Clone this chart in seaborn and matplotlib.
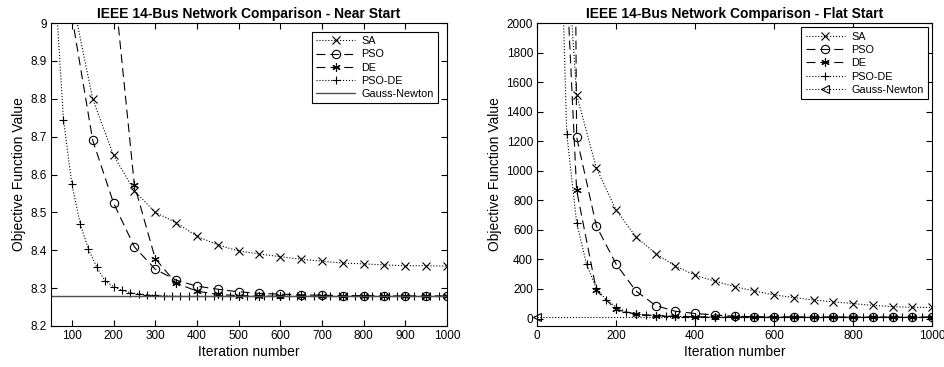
import matplotlib
matplotlib.use("Agg")
import matplotlib.pyplot as plt
import seaborn as sns
from matplotlib.ticker import FormatStrFormatter, MultipleLocator

# ---- near start (left) ----
iters_near = [100, 150, 200, 250, 300, 350, 400, 450, 500, 550, 600, 650, 700, 750, 800, 850, 900, 950, 1000]
sa_near = [9.07, 8.80, 8.651, 8.557, 8.500, 8.473, 8.437, 8.414, 8.398, 8.390, 8.383, 8.376, 8.371,
           8.366, 8.364, 8.361, 8.359, 8.359, 8.358]
pso_near = [9.02, 8.691, 8.525, 8.409, 8.350, 8.321, 8.305, 8.297, 8.290, 8.286, 8.284, 8.282, 8.281,
            8.280, 8.280, 8.279, 8.279, 8.279, 8.279]
iters_de_near = [200, 250, 300, 350, 400, 450, 500, 550, 600, 650, 700, 750, 800, 850, 900, 950, 1000]
de_near = [9.12, 8.573, 8.378, 8.313, 8.292, 8.283, 8.280, 8.279, 8.278, 8.278, 8.278, 8.278, 8.278,
           8.278, 8.278, 8.278, 8.278]
iters_psode_near = [60, 80, 100, 120, 140, 160, 180, 200, 220, 240, 260, 280, 300, 320, 340, 360, 380,
                    400, 420, 440, 460, 480, 500, 520, 540, 560, 580, 600, 620, 640, 660, 680, 700,
                    720, 740, 760, 780, 800, 820, 840, 860, 880, 900, 920, 940, 960, 980, 1000]
psode_near = [9.10, 8.745, 8.575, 8.470, 8.402, 8.355, 8.318, 8.304, 8.294, 8.288, 8.285, 8.282, 8.281,
              8.280, 8.279, 8.278, 8.278, 8.278, 8.278, 8.278, 8.278, 8.278, 8.278, 8.278, 8.278,
              8.278, 8.278, 8.278, 8.278, 8.278, 8.278, 8.278, 8.278, 8.278, 8.278, 8.278, 8.278,
              8.278, 8.278, 8.278, 8.278, 8.278, 8.278, 8.278, 8.278, 8.278, 8.278, 8.278]
iters_gn = [0, 1000]
gn_value = [8.278, 8.278]

# ---- flat start (right) ----
iters_flat = [50, 100, 150, 200, 250, 300, 350, 400, 450, 500, 550, 600, 650, 700, 750, 800, 850, 900, 950, 1000]
sa_flat = [3550, 1515, 1018, 734, 553, 440, 355, 293, 253, 216, 186, 160, 142, 125, 113, 101, 89, 80, 76, 75]
pso_flat = [20000, 1228, 626, 368, 187, 88, 49, 34, 24, 15, 12, 11, 10, 10, 9.5, 9.3, 9.1, 9, 9, 9]
de_flat = [3700, 868, 190, 62, 28, 20, 15, 12, 10, 9.5, 9, 8.8, 8.6, 8.5, 8.4, 8.4, 8.3, 8.3, 8.3, 8.3]
iters_psode_flat = [50, 75, 100, 125, 150, 175, 200, 225, 250, 275, 300, 325, 350, 375, 400, 425, 450,
                    475, 500, 525, 550, 575, 600, 625, 650, 675, 700, 725, 750, 775, 800, 825, 850,
                    875, 900, 925, 950, 975, 1000]
psode_flat = [3600, 1250, 650, 368, 205, 126, 78, 46, 30, 24, 20, 17, 15, 13, 12, 11, 10.5, 10, 9.7,
              9.5, 9.3, 9.1, 9.0, 8.9, 8.8, 8.7, 8.6, 8.5, 8.5, 8.4, 8.4, 8.4, 8.3, 8.3, 8.3, 8.3,
              8.3, 8.3, 8.3]

sns.set_style("ticks")
plt.rcParams['font.family'] = ['Liberation Sans', 'DejaVu Sans']
plt.rcParams['xtick.direction'] = 'in'
plt.rcParams['ytick.direction'] = 'in'
for key in ('text.color', 'axes.labelcolor', 'xtick.color', 'ytick.color', 'axes.edgecolor'):
    plt.rcParams[key] = 'black'

fig = plt.figure(figsize=(9.44, 3.67), dpi=100)
ax1 = fig.add_axes([0.054, 0.112, 0.4195, 0.825])
ax2 = fig.add_axes([0.569, 0.112, 0.4184, 0.825])

lw = 0.8
ms = 6
LONG_DASH = (0, (8, 4.5))


def draw(ax, it, vals, ls, mk, label, every=None, color='k', lwid=lw, clip=True):
    kw = dict(linestyle=ls, marker=mk, markersize=ms, markerfacecolor='none',
              markeredgecolor=color, markeredgewidth=0.8, clip_on=clip)
    if every is not None:
        kw['markevery'] = every
    sns.lineplot(x=it, y=vals, ax=ax, color=color, linewidth=lwid, label=label,
                 errorbar=None, **kw)


asterisk = (6, 2, 0)

# left panel
draw(ax1, iters_near, sa_near, ':', 'x', 'SA')
draw(ax1, iters_near, pso_near, LONG_DASH, 'o', 'PSO')
draw(ax1, iters_de_near, de_near, LONG_DASH, asterisk, 'DE')
draw(ax1, iters_psode_near, psode_near, ':', '+', 'PSO-DE')
draw(ax1, iters_gn, gn_value, '-', None, 'Gauss-Newton', color='0.3', lwid=1.0)
ax1.set_xlim(50, 1000)
ax1.set_ylim(8.2, 9.0)
ax1.xaxis.set_major_locator(MultipleLocator(100))
ax1.yaxis.set_major_locator(MultipleLocator(0.1))
ax1.yaxis.set_major_formatter(FormatStrFormatter('%g'))
ax1.set_title('IEEE 14-Bus Network Comparison - Near Start', fontsize=10, fontweight='bold', pad=4)

# right panel
draw(ax2, iters_flat, sa_flat, ':', 'x', 'SA')
draw(ax2, iters_flat, pso_flat, LONG_DASH, 'o', 'PSO')
draw(ax2, iters_flat, de_flat, LONG_DASH, asterisk, 'DE')
draw(ax2, iters_psode_flat, psode_flat, ':', '+', 'PSO-DE')
draw(ax2, iters_gn, gn_value, ':', '<', 'Gauss-Newton', every=[0], clip=False)
ax2.set_xlim(0, 1000)
ax2.set_ylim(-50, 2000)
ax2.xaxis.set_major_locator(MultipleLocator(200))
ax2.yaxis.set_major_locator(MultipleLocator(200))
ax2.set_title('IEEE 14-Bus Network Comparison - Flat Start', fontsize=10, fontweight='bold', pad=4)

for ax, pad in ((ax1, 0.8), (ax2, 0.4)):
    ax.set_xlabel('Iteration number', fontsize=10, labelpad=2)
    ax.set_ylabel('Objective Function Value', fontsize=10, labelpad=3)
    ax.tick_params(labelsize=8.5, top=True, right=True, length=4, width=0.8, color='k', pad=3)
    for s in ax.spines.values():
        s.set_visible(True)
        s.set_linewidth(0.8)
        s.set_color('k')
    leg = ax.legend(loc='upper right', fontsize=7.8, frameon=True, fancybox=False,
                    edgecolor='k', framealpha=1, handlelength=3.6, borderaxespad=pad,
                    labelspacing=0.3, borderpad=0.4, handletextpad=0.6)
    leg.get_frame().set_linewidth(0.8)

fig.savefig('out.png', dpi=100)
